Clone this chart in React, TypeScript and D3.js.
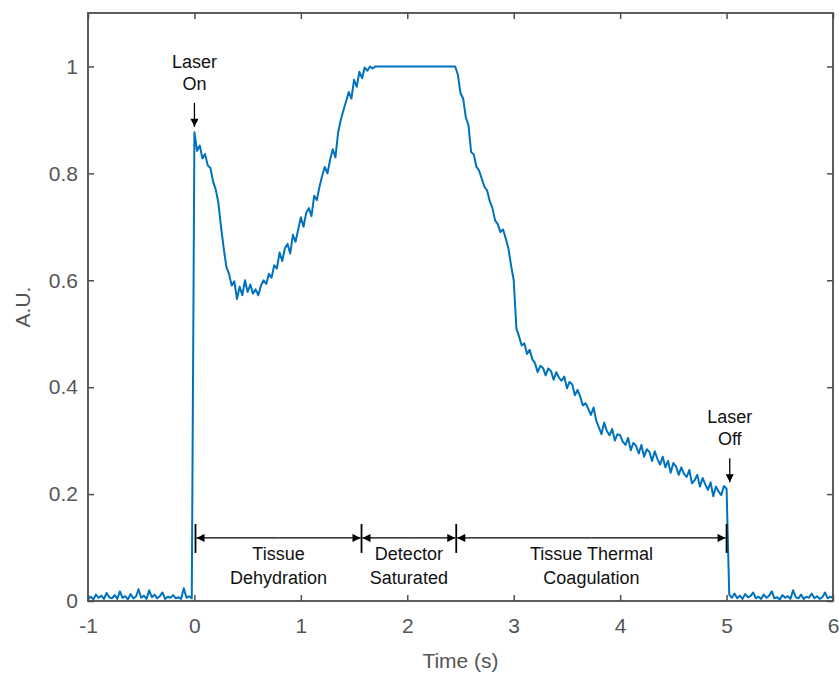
import React, { useEffect, useRef } from 'react';
import * as d3 from 'd3';

// sample step of the trace (s)
const DT = 0.025;

// baseline before laser on, t = -1 .. -0.025
const preSignal = [
  0.004, 0.008, 0.003, 0.012, 0.006, 0.01, 0.004, 0.015, 0.007, 0.005,
  0.011, 0.004, 0.018, 0.006, 0.009, 0.003, 0.013, 0.005, 0.008, 0.022,
  0.006, 0.01, 0.004, 0.02, 0.007, 0.012, 0.005, 0.009, 0.016, 0.004,
  0.008, 0.006, 0.011, 0.005, 0.007, 0.004, 0.024, 0.006, 0.009, 0.005,
];

// laser on, t = 0 .. 5
const onSignal = [
  0.877, 0.842, 0.852, 0.828, 0.836, 0.815, 0.81, 0.785,
  0.77, 0.745, 0.7, 0.66, 0.625, 0.612, 0.59, 0.598,
  0.565, 0.588, 0.572, 0.6, 0.578, 0.592, 0.575, 0.583,
  0.572, 0.59, 0.6, 0.593, 0.612, 0.605, 0.628, 0.622,
  0.652, 0.636, 0.66, 0.668, 0.65, 0.685, 0.672, 0.695,
  0.718, 0.7, 0.726, 0.735, 0.72, 0.758, 0.75, 0.775,
  0.795, 0.812, 0.8, 0.826, 0.845, 0.83, 0.876, 0.9,
  0.918, 0.935, 0.952, 0.94, 0.975, 0.962, 0.99, 0.978,
  0.998, 0.992, 1.0, 0.996, 1.0, 1.0, 1.0, 1.0,
  1.0, 1.0, 1.0, 1.0, 1.0, 1.0, 1.0, 1.0,
  1.0, 1.0, 1.0, 1.0, 1.0, 1.0, 1.0, 1.0,
  1.0, 1.0, 1.0, 1.0, 1.0, 1.0, 1.0, 1.0,
  1.0, 1.0, 1.0, 0.985, 0.95, 0.94, 0.905, 0.89,
  0.84, 0.835, 0.812, 0.805, 0.79, 0.775, 0.768, 0.748,
  0.735, 0.712, 0.705, 0.69, 0.695, 0.678, 0.66, 0.628,
  0.6, 0.51, 0.495, 0.478, 0.482, 0.462, 0.47, 0.452,
  0.445, 0.428, 0.44, 0.436, 0.422, 0.435, 0.43, 0.414,
  0.428, 0.418, 0.412, 0.42, 0.398, 0.41, 0.405, 0.385,
  0.395, 0.382, 0.366, 0.37, 0.36, 0.348, 0.362, 0.338,
  0.325, 0.312, 0.334, 0.318, 0.31, 0.322, 0.3, 0.312,
  0.31, 0.298, 0.292, 0.305, 0.282, 0.296, 0.29, 0.276,
  0.292, 0.27, 0.284, 0.279, 0.262, 0.28, 0.266, 0.255,
  0.27, 0.25, 0.262, 0.24, 0.258, 0.252, 0.236, 0.25,
  0.238, 0.232, 0.245, 0.22, 0.226, 0.236, 0.214, 0.23,
  0.218, 0.208, 0.222, 0.196, 0.214, 0.205, 0.198, 0.215,
  0.21,
];

// baseline after laser off, t = 5.025 .. 6
const postSignal = [
  0.012, 0.006, 0.014, 0.005, 0.01, 0.004, 0.013, 0.007, 0.009, 0.016,
  0.005, 0.008, 0.004, 0.012, 0.006, 0.01, 0.018, 0.005, 0.007, 0.003,
  0.011, 0.006, 0.009, 0.004, 0.02, 0.007, 0.005, 0.012, 0.004, 0.008,
  0.006, 0.014, 0.005, 0.009, 0.004, 0.007, 0.016, 0.005, 0.008, 0.006,
];

const xTicks = [-1, 0, 1, 2, 3, 4, 5, 6];
const yTicks = [0, 0.2, 0.4, 0.6, 0.8, 1];

// phase boundaries (s) and labels
const phaseBounds = [0.01, 1.57, 2.46, 5.0];
const phaseLabels = [
  ['Tissue', 'Dehydration'],
  ['Detector', 'Saturated'],
  ['Tissue Thermal', 'Coagulation'],
];

// point markers: [time, value at arrow tip, label lines]
const laserNotes: [number, number, string[]][] = [
  [0.0, 0.887, ['Laser', 'On']],
  [5.03, 0.222, ['Laser', 'Off']],
];

const FONT = 'Arial, "Liberation Sans", sans-serif';

const App = () => {
  const svgRef = useRef<SVGSVGElement | null>(null);

  useEffect(() => {
    const root = d3.select(svgRef.current);
    root.selectAll('*').remove();

    const width = 839;
    const height = 673;
    const margin = { top: 13, right: 6, bottom: 72, left: 88 };
    const w = width - margin.left - margin.right;
    const h = height - margin.top - margin.bottom;

    root.attr('width', width).attr('height', height);

    const defs = root.append('defs');
    defs
      .append('marker')
      .attr('id', 'head')
      .attr('viewBox', '0 0 10 10')
      .attr('refX', 10)
      .attr('refY', 5)
      .attr('markerWidth', 10)
      .attr('markerHeight', 8)
      .attr('markerUnits', 'userSpaceOnUse')
      .attr('orient', 'auto')
      .append('path')
      .attr('d', 'M0,0 L10,5 L0,10 Z')
      .attr('fill', '#000');

    const svg = root
      .append('g')
      .attr('transform', `translate(${margin.left}, ${margin.top})`);

    const x = d3.scaleLinear().domain([-1, 6]).range([0, w]);
    const y = d3.scaleLinear().domain([0, 1.1]).range([h, 0]);

    // data points
    const pts: [number, number][] = [];
    preSignal.forEach((v, i) => pts.push([-1 + i * DT, v]));
    onSignal.forEach((v, i) => pts.push([i * DT, v]));
    postSignal.forEach((v, i) => pts.push([5 + (i + 1) * DT, v]));

    const axisColor = '#4d4d4d';
    const tickLen = 6;

    // ticks (inward, all four sides)
    const bottomAx = svg
      .append('g')
      .attr('transform', `translate(0, ${h})`)
      .call(d3.axisBottom(x).tickValues(xTicks).tickFormat((d) => String(d)).tickSizeInner(-tickLen).tickSizeOuter(0).tickPadding(17));
    const topAx = svg
      .append('g')
      .call(d3.axisTop(x).tickValues(xTicks).tickFormat(() => '').tickSizeInner(-tickLen).tickSizeOuter(0));
    const leftAx = svg
      .append('g')
      .call(d3.axisLeft(y).tickValues(yTicks).tickFormat((d) => String(d)).tickSizeInner(-tickLen).tickSizeOuter(0).tickPadding(10));
    const rightAx = svg
      .append('g')
      .attr('transform', `translate(${w}, 0)`)
      .call(d3.axisRight(y).tickValues(yTicks).tickFormat(() => '').tickSizeInner(-tickLen).tickSizeOuter(0));

    [bottomAx, topAx, leftAx, rightAx].forEach((ax) => {
      ax.select('.domain').remove();
      ax.selectAll('line').attr('stroke', axisColor).attr('stroke-width', 1.5);
      ax.selectAll('text')
        .attr('fill', '#555')
        .style('font-family', FONT)
        .style('font-size', '21px');
    });

    // signal
    svg
      .append('path')
      .datum(pts)
      .attr('fill', 'none')
      .attr('stroke', '#0072BD')
      .attr('stroke-width', 2)
      .attr('stroke-linejoin', 'round')
      .attr(
        'd',
        d3
          .line<[number, number]>()
          .x((d) => x(d[0]))
          .y((d) => y(d[1]))
      );

    // axes box
    svg
      .append('rect')
      .attr('width', w)
      .attr('height', h)
      .attr('fill', 'none')
      .attr('stroke', axisColor)
      .attr('stroke-width', 1.8);

    // axis labels
    svg
      .append('text')
      .attr('x', x(2.5))
      .attr('y', h + 67)
      .attr('text-anchor', 'middle')
      .attr('fill', '#555')
      .style('font-family', FONT)
      .style('font-size', '21px')
      .text('Time (s)');

    svg
      .append('text')
      .attr('transform', `translate(${-58}, ${y(0.55)}) rotate(-90)`)
      .attr('text-anchor', 'middle')
      .attr('fill', '#555')
      .style('font-family', FONT)
      .style('font-size', '21px')
      .text('A.U.');

    // phase brackets
    const barY = y(0.118);
    phaseBounds.forEach((t) => {
      svg
        .append('line')
        .attr('x1', x(t))
        .attr('x2', x(t))
        .attr('y1', barY - 14)
        .attr('y2', barY + 15)
        .attr('stroke', '#000')
        .attr('stroke-width', 1.8);
    });
    phaseLabels.forEach((lines, i) => {
      const a = x(phaseBounds[i]) + 1;
      const b = x(phaseBounds[i + 1]) - 1;
      [a, b].forEach((end) => {
        svg
          .append('line')
          .attr('x1', (a + b) / 2)
          .attr('x2', end)
          .attr('y1', barY)
          .attr('y2', barY)
          .attr('stroke', '#000')
          .attr('stroke-width', 1.3)
          .attr('marker-end', 'url(#head)');
      });
      lines.forEach((s, j) => {
        svg
          .append('text')
          .attr('x', (a + b) / 2)
          .attr('y', barY + 22 + j * 24)
          .attr('text-anchor', 'middle')
          .attr('fill', '#111')
          .style('font-family', FONT)
          .style('font-size', '18px')
          .text(s);
      });
    });

    // laser on/off notes
    laserNotes.forEach(([t, v, lines]) => {
      const tip = y(v);
      svg
        .append('line')
        .attr('x1', x(t))
        .attr('x2', x(t))
        .attr('y1', tip - 24)
        .attr('y2', tip)
        .attr('stroke', '#000')
        .attr('stroke-width', 1.3)
        .attr('marker-end', 'url(#head)');
      lines.forEach((s, j) => {
        svg
          .append('text')
          .attr('x', x(t))
          .attr('y', tip - 59 + j * 22)
          .attr('text-anchor', 'middle')
          .attr('fill', '#111')
          .style('font-family', FONT)
          .style('font-size', '18px')
          .text(s);
      });
    });
  }, []);

  return (
    <svg
      ref={svgRef}
      style={{ position: 'absolute', left: 0, top: 0, background: '#fff' }}
    ></svg>
  );
};

export default App;
